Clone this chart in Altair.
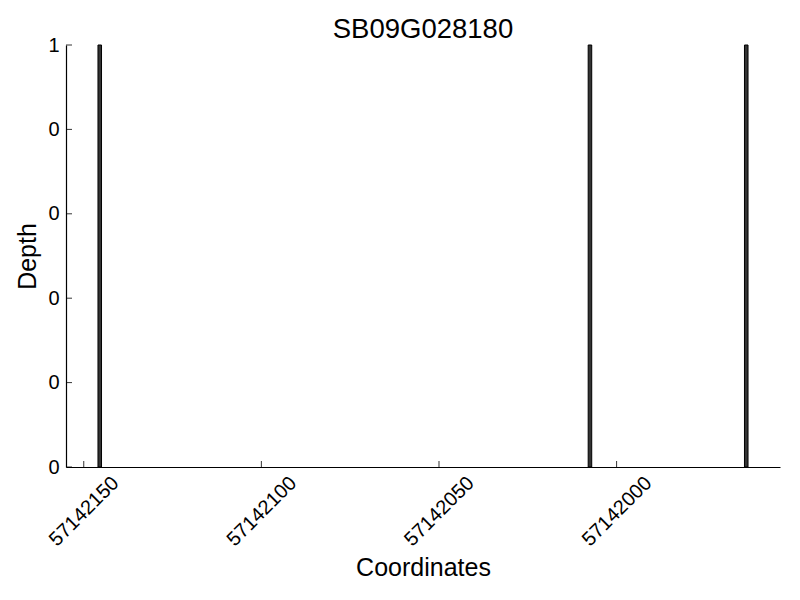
import altair as alt
import pandas as pd

title_text = "SB09G028180"
bar_start = [57142146, 57142008, 57141964]
bar_end = [57142145, 57142007, 57141963]
depth = [1, 1, 1]
x_ticks = [57142150, 57142100, 57142050, 57142000]
y_ticks = [0, 0.2, 0.4, 0.6, 0.8, 1.0]
x_domain = [57141954, 57142155]

FONT = "Liberation Sans"
W, H = 714, 422

bars_df = pd.DataFrame({"start": bar_start, "end": bar_end, "depth": depth})
xt_df = pd.DataFrame({"t": x_ticks})
yt_df = pd.DataFrame({"t": y_ticks})

xscale = alt.Scale(domain=x_domain, reverse=True, nice=False, zero=False)
yscale = alt.Scale(domain=[0, 1], nice=False)

bars = alt.Chart(bars_df).mark_rect(color="#333333", stroke="#000000", strokeWidth=1).encode(
    x=alt.X("start:Q", scale=xscale,
            axis=alt.Axis(values=x_ticks, title="Coordinates", format="d", grid=False, ticks=False,
                          labelAngle=-45, labelAlign="center", labelBaseline="middle",
                          labelPadding=44, labelFontSize=20, labelFont=FONT, labelColor="#000",
                          titleFont=FONT, titleFontSize=25, titleFontWeight="normal", titleColor="#000",
                          titleY=100, titleBaseline="middle",
                          domainColor="#000", domainWidth=1.2)),
    x2="end:Q",
    y=alt.Y("depth:Q", scale=yscale,
            axis=alt.Axis(values=y_ticks, title="Depth", grid=False, ticks=False,
                          labelExpr="floor(datum.value)", labelPadding=7,
                          labelFontSize=20, labelFont=FONT, labelColor="#000",
                          titleFont=FONT, titleFontSize=25, titleFontWeight="normal", titleColor="#000",
                          titleX=-39, titleY=211, titleBaseline="middle", titleAngle=-90,
                          domainColor="#000", domainWidth=1.2)),
    y2=alt.datum(0),
)

xticks = alt.Chart(xt_df).mark_rule(color="#000", strokeWidth=0.8).encode(
    x=alt.X("t:Q", scale=xscale),
    y=alt.value(H),
    y2=alt.value(H - 6),
)
yticks = alt.Chart(yt_df).mark_rule(color="#000", strokeWidth=0.8).encode(
    y=alt.Y("t:Q", scale=yscale),
    x=alt.value(0),
    x2=alt.value(6),
)

chart = alt.layer(bars, xticks, yticks).properties(
    width=W, height=H,
    background="white",
    title=alt.TitleParams(title_text, font=FONT, fontSize=27.5, fontWeight="normal", color="#000",
                          anchor="middle", offset=-8),
    autosize=alt.AutoSizeParams(type="none"),
    padding={"left": 58, "top": 37, "right": 12, "bottom": 125},
).configure_view(strokeWidth=0, stroke="transparent").configure_axis(grid=False)

chart.save("out.html", embed_options={"renderer": "svg", "actions": False})
